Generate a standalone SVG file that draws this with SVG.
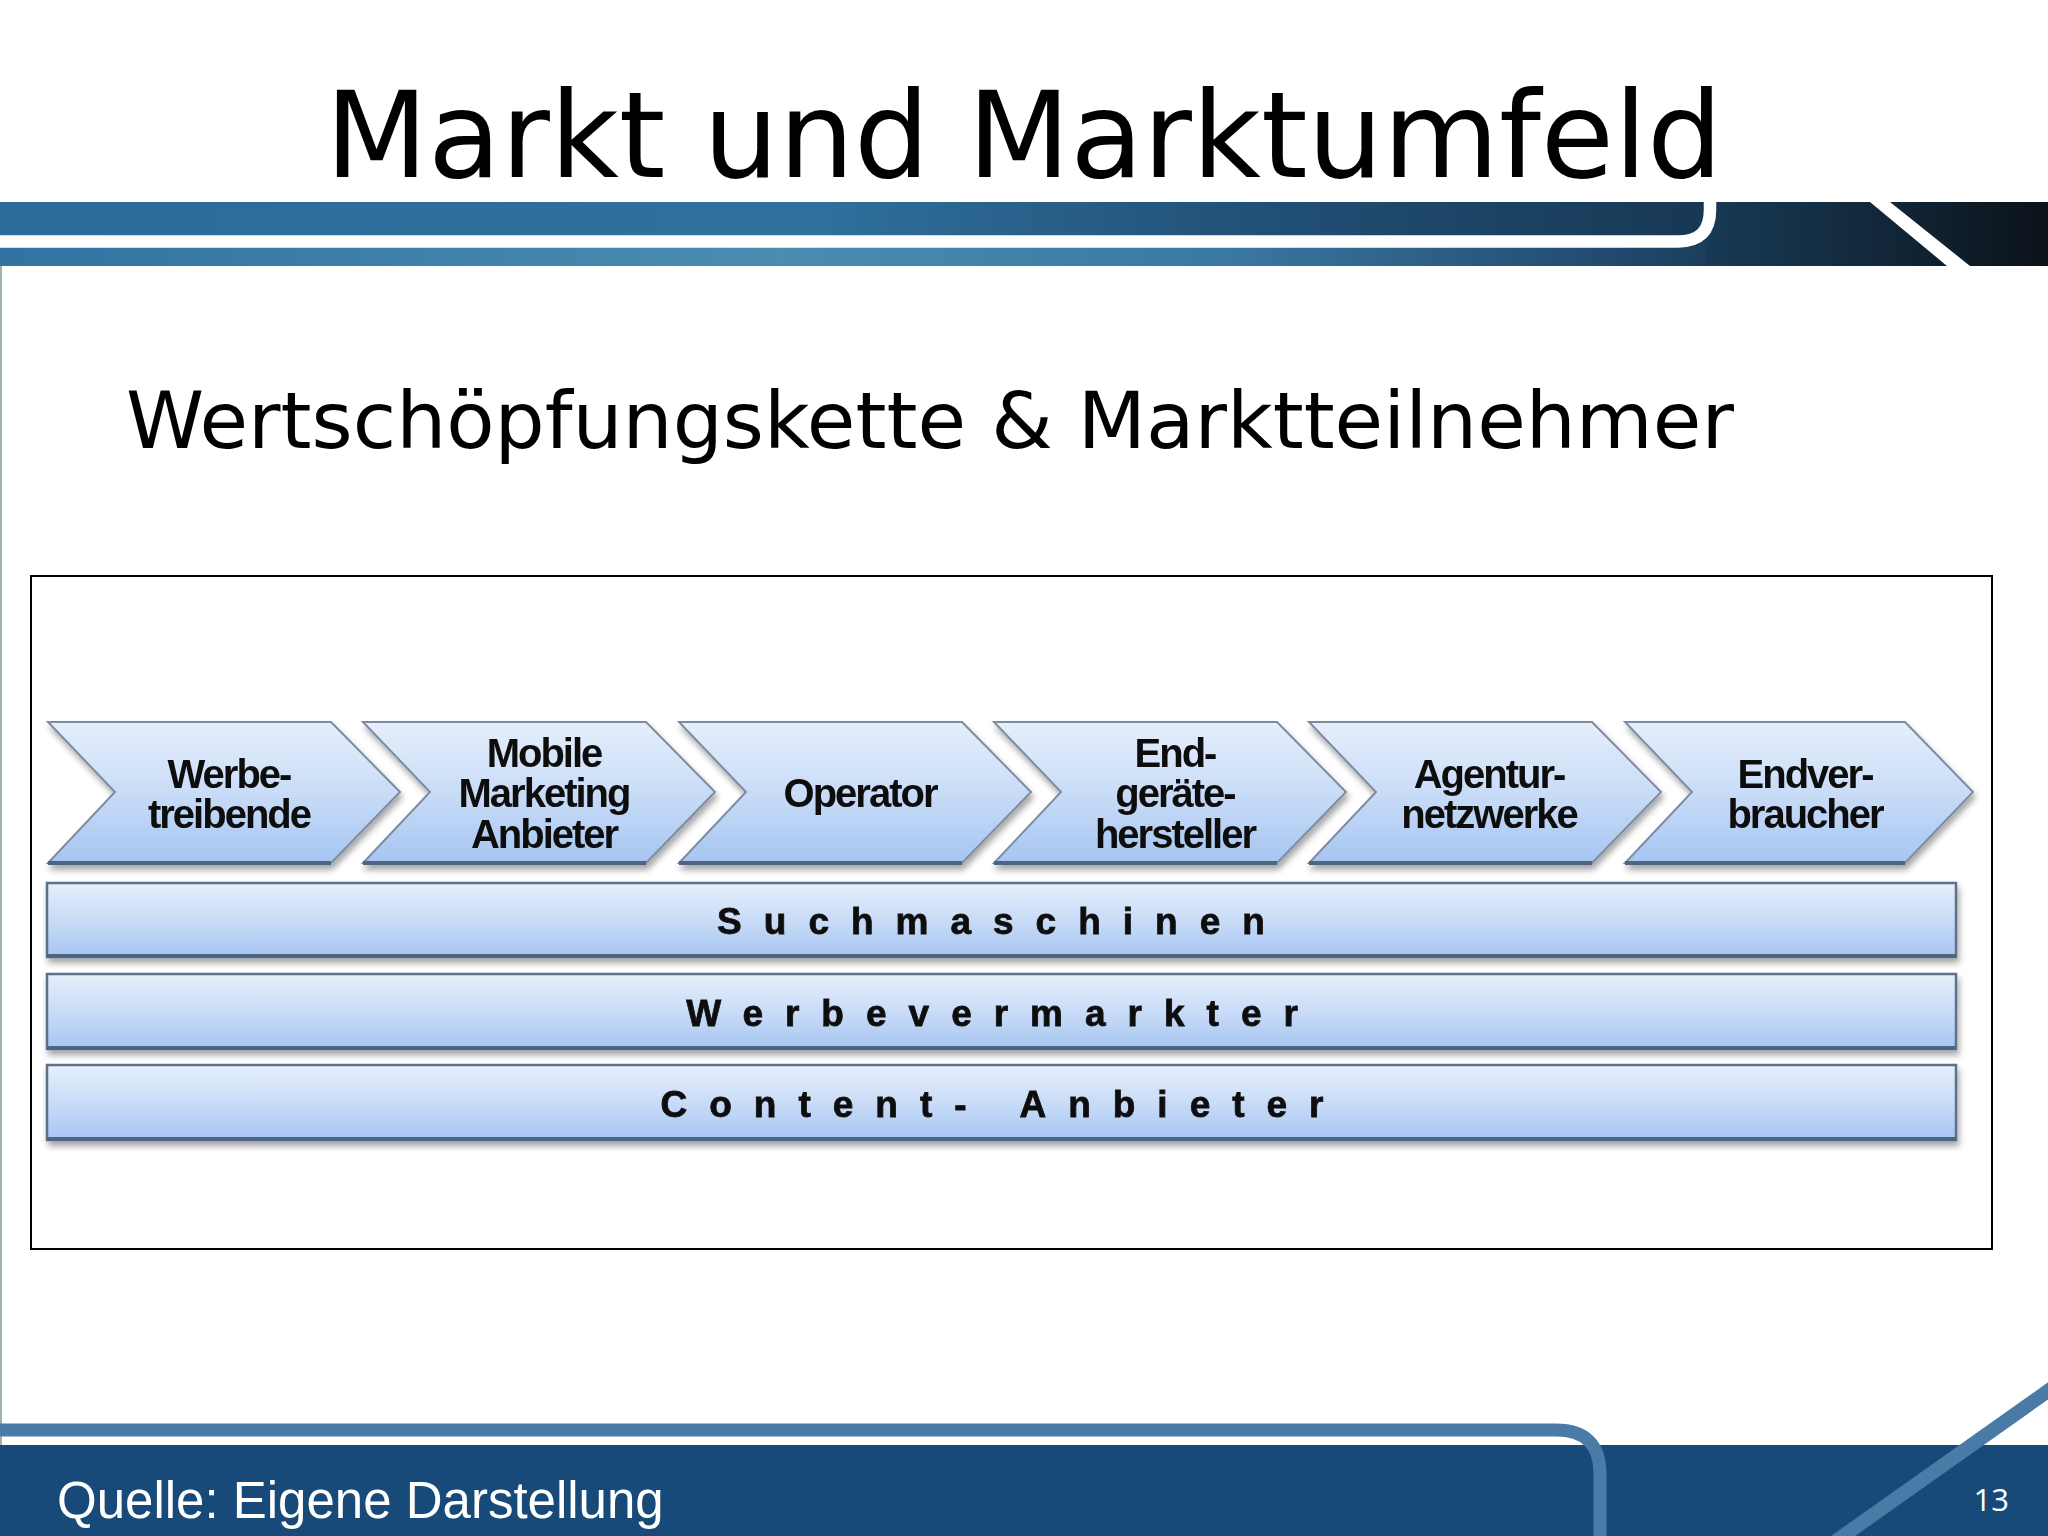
<svg xmlns="http://www.w3.org/2000/svg" width="2048" height="1536" viewBox="0 0 2048 1536">
<defs>
<linearGradient id="hdrTop" x1="0" y1="0" x2="1" y2="0">
<stop offset="0" stop-color="#2c6c9b"/>
<stop offset="0.4" stop-color="#2f709c"/>
<stop offset="0.62" stop-color="#214f76"/>
<stop offset="0.84" stop-color="#173752"/>
<stop offset="1" stop-color="#0c141c"/>
</linearGradient>
<linearGradient id="hdrBot" x1="0" y1="0" x2="1" y2="0">
<stop offset="0" stop-color="#3173a1"/>
<stop offset="0.38" stop-color="#4a8db1"/>
<stop offset="0.6" stop-color="#3a78a2"/>
<stop offset="0.8" stop-color="#20466a"/>
<stop offset="1" stop-color="#0c141c"/>
</linearGradient>
<linearGradient id="hdrRight" x1="0" y1="0" x2="1" y2="0">
<stop offset="0" stop-color="#173a56"/>
<stop offset="0.5" stop-color="#12283a"/>
<stop offset="1" stop-color="#0b1219"/>
</linearGradient>
<linearGradient id="boxFill" x1="0" y1="0" x2="0" y2="1">
<stop offset="0" stop-color="#e6effb"/>
<stop offset="0.5" stop-color="#c9dcf7"/>
<stop offset="1" stop-color="#a6c5f2"/>
</linearGradient>
<filter id="shadow" x="-5%" y="-20%" width="110%" height="150%">
<feGaussianBlur in="SourceAlpha" stdDeviation="3"/>
<feOffset dx="2" dy="5" result="b"/>
<feComponentTransfer><feFuncA type="linear" slope="0.35"/></feComponentTransfer>
<feMerge><feMergeNode/><feMergeNode in="SourceGraphic"/></feMerge>
</filter>
</defs>
<style>
.chev{fill:url(#boxFill);stroke:#7d8ca2;stroke-width:2;stroke-linejoin:miter}
.bar{fill:url(#boxFill);stroke:#5d718c;stroke-width:2.5}
.edge{stroke:#4f6482;stroke-width:4;fill:none}
.ct{font-family:"Liberation Sans",Arial,sans-serif;font-weight:bold;font-size:40px;letter-spacing:-2px;fill:#111;text-anchor:middle}
.bt{font-family:"Liberation Sans",Arial,sans-serif;font-weight:bold;font-size:37px;letter-spacing:22px;fill:#111;text-anchor:middle;stroke:#111;stroke-width:0.8}
</style>
<rect x="0" y="0" width="2048" height="1536" fill="#ffffff"/>
<line x1="1" y1="266" x2="1" y2="1445" stroke="#9fb2a8" stroke-width="2"/>

<g id="header">
<rect x="0" y="202" width="2048" height="40" fill="url(#hdrTop)"/>
<rect x="0" y="241" width="2048" height="25" fill="url(#hdrBot)"/>
<rect x="1705" y="202" width="343" height="64" fill="url(#hdrRight)"/>
<path d="M -5 241.5 H 1678 Q 1710 241.5 1710 210 V 198" fill="none" stroke="#ffffff" stroke-width="12.5"/>
<polygon points="1870,202 1890,202 1970,266 1947,266" fill="#ffffff"/>
</g>

<text x="1024" y="177" font-family="DejaVu Sans, Verdana, sans-serif" font-size="119" text-anchor="middle" fill="#000">Markt und Marktumfeld</text>
<text x="126" y="448" font-family="DejaVu Sans, Verdana, sans-serif" font-size="79" fill="#000">Wertschöpfungskette &amp; Marktteilnehmer</text>

<rect x="31" y="576" width="1961" height="673" fill="#ffffff" stroke="#000" stroke-width="2"/>

<g id="chevrons" filter="url(#shadow)">
<g id="n1"><path class="chev" d="M48,722 H331 L400,792 L331,863 H48 L115,792 Z"/><line class="edge" x1="48" y1="863" x2="331" y2="863"/>
<text class="ct" x="229" y="788">Werbe-</text><text class="ct" x="229" y="828">treibende</text></g>
<g id="n2"><path class="chev" d="M363,722 H646 L715,792 L646,863 H363 L430,792 Z"/><line class="edge" x1="363" y1="863" x2="646" y2="863"/>
<text class="ct" x="544" y="767">Mobile</text><text class="ct" x="544" y="807">Marketing</text><text class="ct" x="544" y="848">Anbieter</text></g>
<g id="n3"><path class="chev" d="M679,722 H962 L1031,792 L962,863 H679 L746,792 Z"/><line class="edge" x1="679" y1="863" x2="962" y2="863"/>
<text class="ct" x="860" y="807">Operator</text></g>
<g id="n4"><path class="chev" d="M994,722 H1277 L1346,792 L1277,863 H994 L1061,792 Z"/><line class="edge" x1="994" y1="863" x2="1277" y2="863"/>
<text class="ct" x="1175" y="767">End-</text><text class="ct" x="1175" y="807">geräte-</text><text class="ct" x="1175" y="848">hersteller</text></g>
<g id="n5"><path class="chev" d="M1309,722 H1592 L1661,792 L1592,863 H1309 L1376,792 Z"/><line class="edge" x1="1309" y1="863" x2="1592" y2="863"/>
<text class="ct" x="1489" y="788">Agentur-</text><text class="ct" x="1489" y="828">netzwerke</text></g>
<g id="n6"><path class="chev" d="M1625,722 H1905 L1973,792 L1905,863 H1625 L1692,792 Z"/><line class="edge" x1="1625" y1="863" x2="1905" y2="863"/>
<text class="ct" x="1805" y="788">Endver-</text><text class="ct" x="1805" y="828">braucher</text></g>
</g>

<g id="bars" filter="url(#shadow)">
<g id="b1"><rect class="bar" x="47" y="883" width="1909" height="74"/><line class="edge" x1="47" y1="956" x2="1956" y2="956"/>
<text class="bt" x="1002" y="934">Suchmaschinen</text></g>
<g id="b2"><rect class="bar" x="47" y="974" width="1909" height="75"/><line class="edge" x1="47" y1="1048" x2="1956" y2="1048"/>
<text class="bt" x="1003" y="1026">Werbevermarkter</text></g>
<g id="b3"><rect class="bar" x="47" y="1065" width="1909" height="75"/><line class="edge" x1="47" y1="1139" x2="1956" y2="1139"/>
<text class="bt" x="1003" y="1117">Content- Anbieter</text></g>
</g>

<g id="connectors"></g>

<g id="footer">
<rect x="0" y="1445" width="2048" height="91" fill="#174a78"/>
<path d="M -5 1430 H 1556 Q 1600 1430 1600 1474 V 1545" fill="none" stroke="#4a7ba6" stroke-width="13"/>
<line x1="2062" y1="1381" x2="1836" y2="1541" stroke="#4a7ba6" stroke-width="14"/>
<text x="57" y="1518" font-family="Liberation Sans, Arial, sans-serif" font-size="51" fill="#ffffff">Quelle: Eigene Darstellung</text>
<text x="2009" y="1511" font-family="Open Sans, Liberation Sans, sans-serif" font-size="31" fill="#ffffff" text-anchor="end">13</text>
</g>
</svg>
